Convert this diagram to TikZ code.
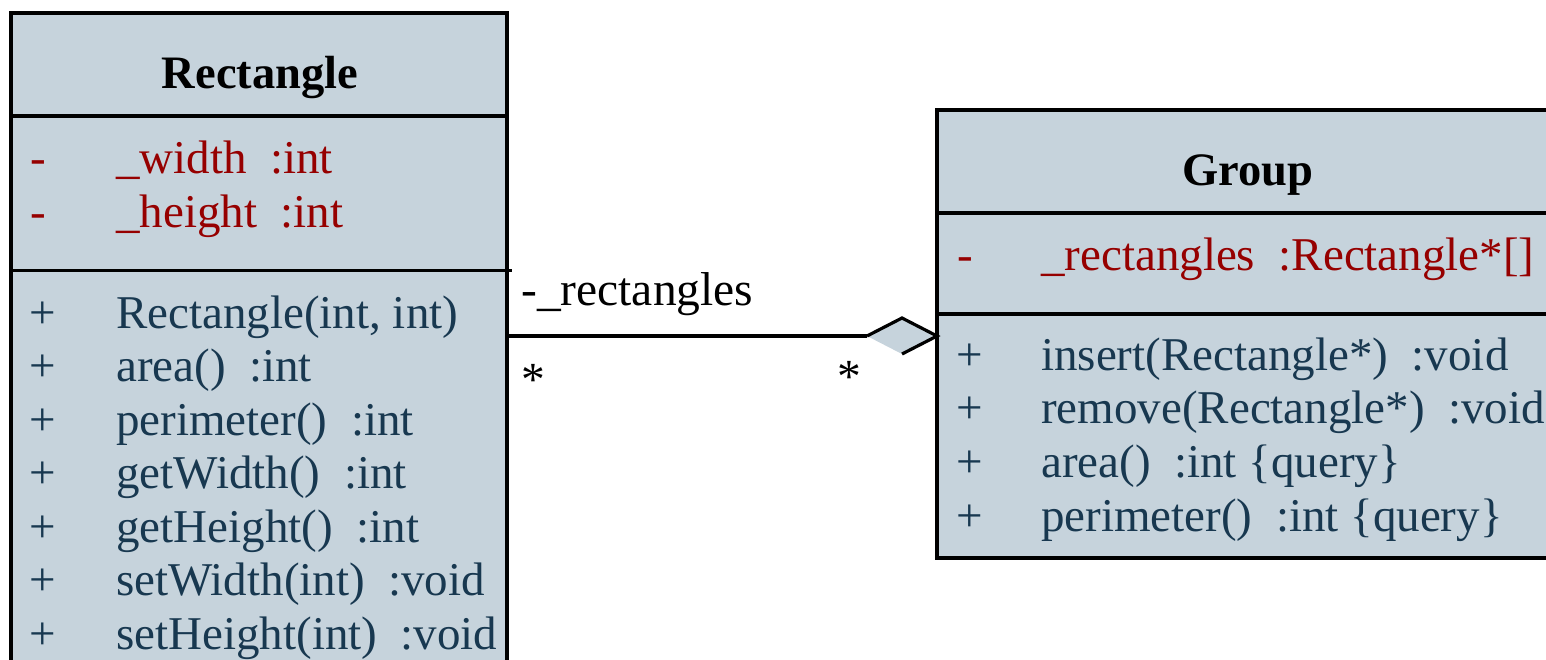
\documentclass[tikz,border=0pt]{standalone}
\usepackage{fontspec}
\setmainfont{Liberation Serif}
\usetikzlibrary{calc}
\definecolor{boxfill}{RGB}{198,211,220}
\definecolor{attrred}{RGB}{150,0,0}
\definecolor{methblue}{RGB}{24,56,80}
\tikzset{
  umlbox/.style={draw=black, line width=3.2pt, fill=boxfill, anchor=north west, inner sep=0pt, outer sep=0pt},
  divider/.style={draw=black, line width=3.2pt},
  ttl/.style={font=\fontsize{46.5}{53.5}\selectfont\bfseries, anchor=base, inner sep=0pt},
  attr/.style={font=\fontsize{47}{53.5}\selectfont, text=attrred, anchor=base west, inner sep=0pt},
  meth/.style={font=\fontsize{47}{53.5}\selectfont, text=methblue, anchor=base west, inner sep=0pt},
  lbl/.style={font=\fontsize{47.5}{53.5}\selectfont, text=black, anchor=base west, inner sep=0pt},
  conn/.style={draw=black, line width=3.2pt},
}
\begin{document}
\begin{tikzpicture}[x=1pt,y=-1pt]
\useasboundingbox (0,0) rectangle (1546,659);
\clip (0,0) rectangle (1546,659);
% Rectangle class
\node[umlbox, minimum width=496pt, minimum height=700pt] (rect) at (11,13) {};
\draw[divider] (11,116) -- (507,116);
\draw[divider] (11,270.5) -- (512,270.5);
\node[ttl] (rtitle) at (260,88) {Rectangle};
\node[attr] (ra1s) at (30,173) {-};
\node[attr] (ra1) at (116,173) {\_width\ \ :int};
\node[attr] (ra2s) at (30,227.5) {-};
\node[attr] (ra2) at (116,227.5) {\_height\ \ :int};
\foreach \t [count=\i] in {{Rectangle(int, int)},{area()\ \ :int},{perimeter()\ \ :int},{getWidth()\ \ :int},{getHeight()\ \ :int},{setWidth(int)\ \ :void},{setHeight(int)\ \ :void}}{
  \node[meth] (rms\i) at (29,{328+53.5*(\i-1)}) {+};
  \node[meth] (rm\i) at (116,{328+53.5*(\i-1)}) {\t};
}
% Group class
\node[umlbox, minimum width=640pt, minimum height=448pt] (group) at (937,110) {};
\draw[divider] (937,213) -- (1580,213);
\draw[divider] (937,314) -- (1580,314);
\node[ttl] (gtitle) at (1248,185) {Group};
\node[attr] (ga1s) at (957,270) {-};
\node[attr] (ga1) at (1041,270) {\_rectangles\ \ :Rectangle*[]};
\foreach \t [count=\i] in {{insert(Rectangle*)\ \ :void},{remove(Rectangle*)\ \ :void},{area()\ \ :int \{query\}},{perimeter()\ \ :int \{query\}}}{
  \node[meth] (gms\i) at (956,{370+53.7*(\i-1)}) {+};
  \node[meth] (gm\i) at (1041,{370+53.7*(\i-1)}) {\t};
}
% aggregation connector
\coordinate (aL) at (509,336);
\coordinate (aR) at (group.west |- aL);
\coordinate (dT) at ($(aR)+(-35,-18)$);
\coordinate (dL) at ($(aR)+(-70,0)$);
\coordinate (dB) at ($(aR)+(-35,18)$);
\fill[boxfill] (dL) -- (dT) -- (aR) -- (dB) -- cycle;
\draw[conn] (aL) -- (dL);
\draw[conn, line join=miter] (dL) -- (dT) -- (aR) -- (dB);
\node[lbl] (rolelbl) at (521,305) {-\_rectangles};
\node[lbl] (mult1) at (521,395) {*};
\node[lbl] (mult2) at (837,392) {*};
\end{tikzpicture}
\end{document}
